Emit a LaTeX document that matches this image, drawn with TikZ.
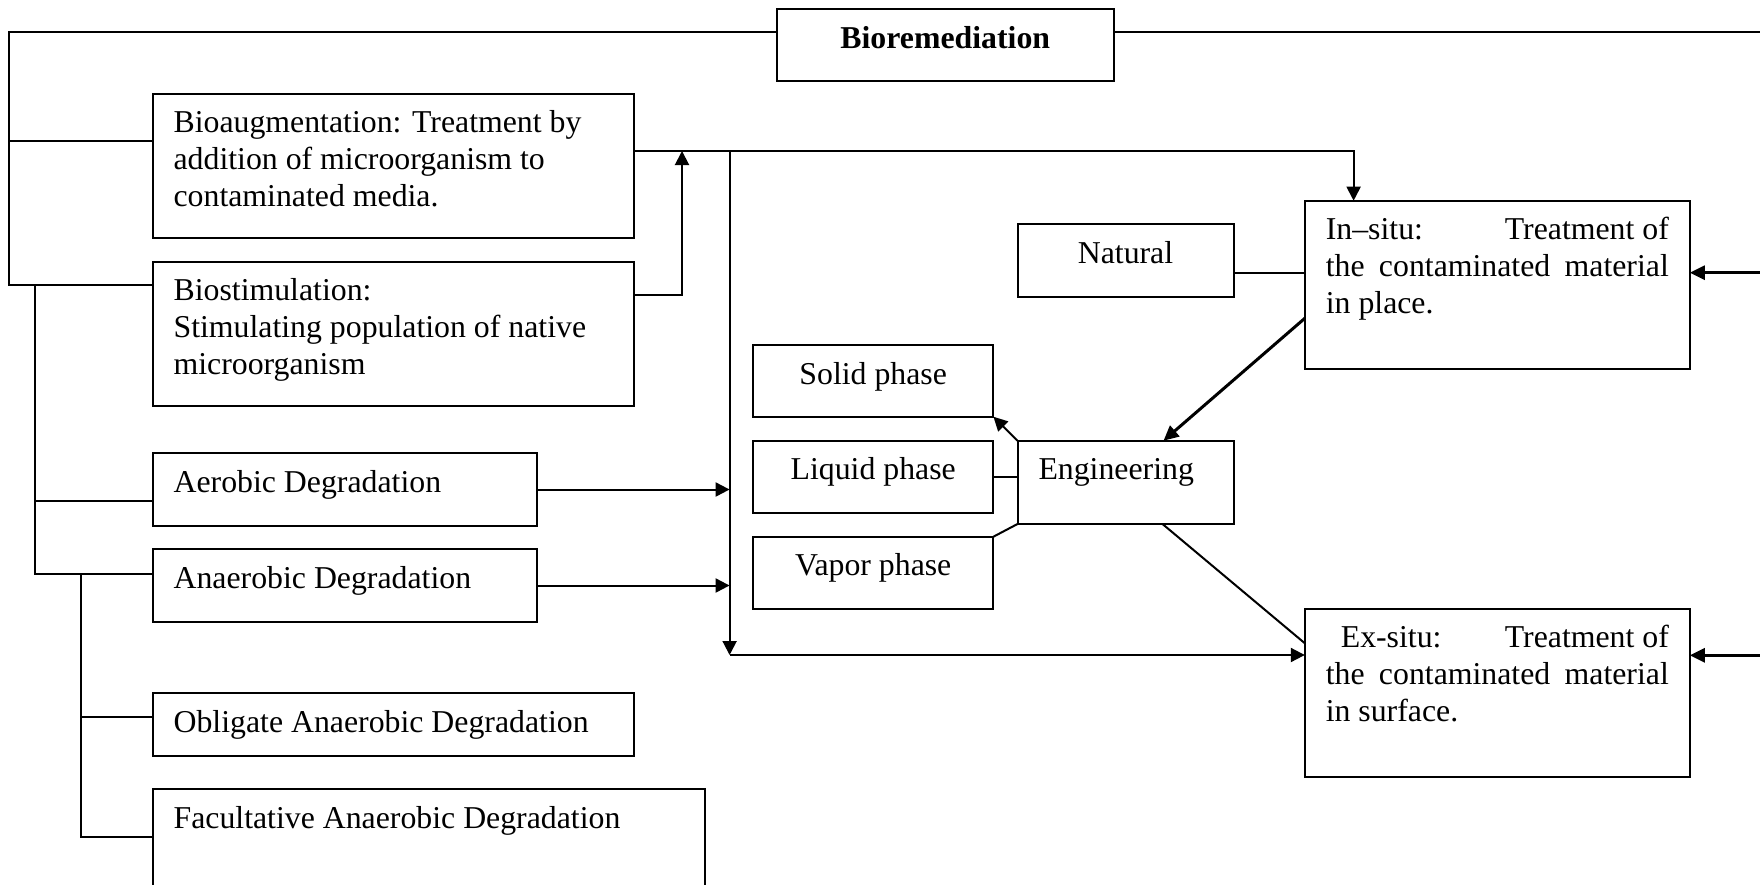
\documentclass[tikz,border=0pt]{standalone}
\usepackage{fontspec}
\setmainfont{Liberation Serif}
\usetikzlibrary{arrows.meta}

\newcommand{\boxtext}[4][\raggedright]{\parbox[t][#3][t]{#2}{#1\rule{0pt}{19.5pt}#4}}

\begin{document}
\begin{tikzpicture}[x=0.5pt, y=-0.5pt, line width=1pt,
    box/.style={draw, line width=1pt, anchor=north west, inner xsep=10.5pt, inner ysep=0pt, outer sep=0pt, font=\fontsize{15.9}{18.35}\selectfont},
    arr/.style={-{Triangle[length=7pt,width=7pt]}},
    thickarr/.style={line width=1.5pt, -{Triangle[length=7.5pt,width=7pt]}}]
    \useasboundingbox (0,0) rectangle (1760,884);
    \clip (0,0) rectangle (1760,884);

    \node[box] (biorem) at (777,9) {\boxtext[\centering\bfseries]{147.25pt}{35.85pt}{Bioremediation}};
    \node[box] (bioaug) at (152.6,93.7) {\boxtext{219.5pt}{72pt}{Bioaugmentation: Treatment by\\addition of microorganism to\\contaminated media.}};
    \node[box] (biostim) at (152.6,261.7) {\boxtext{219.5pt}{72pt}{Biostimulation:\\Stimulating population of native\\microorganism}};
    \node[box] (aerob) at (152.6,453.3) {\boxtext{171.2pt}{36.2pt}{Aerobic Degradation}};
    \node[box] (anaer) at (152.6,549.3) {\boxtext{171.2pt}{36.2pt}{Anaerobic Degradation}};
    \node[box] (oblig) at (152.6,693.3) {\boxtext{219.5pt}{31.35pt}{Obligate Anaerobic Degradation}};
    \node[box] (facult) at (152.6,789.3) {\boxtext{255.4pt}{65pt}{Facultative Anaerobic Degradation}};
    \node[box] (solid) at (753,345) {\boxtext[\centering]{99.2pt}{35.85pt}{Solid phase}};
    \node[box] (liquid) at (753,440.7) {\boxtext[\centering]{99.2pt}{36.15pt}{Liquid phase}};
    \node[box] (vapor) at (753,536.7) {\boxtext[\centering]{99.2pt}{36.15pt}{Vapor phase}};
    \node[box] (engin) at (1017.5,440.7) {\boxtext{87pt}{41.65pt}{Engineering}};
    \node[box] (natural) at (1017.5,224.3) {\boxtext[\centering]{87pt}{36.2pt}{Natural}};
    \node[box] (insitu) at (1304.8,200.7) {\boxtext[]{171.5pt}{84pt}{In--situ:\hfill Treatment of\\the contaminated material\linebreak in place.}};
    \node[box] (exsitu) at (1304.8,608.7) {\boxtext[]{171.5pt}{84.15pt}{\hspace*{7.5pt}Ex-situ:\hfill Treatment of\\the contaminated material\linebreak in surface.}};

    \coordinate (tl) at (9,32.3);
    \coordinate (tr) at (1760,32.3);
    \coordinate (ba) at (9,141.3);
    \coordinate (bl) at (9,285.3);
    \coordinate (v2) at (35,285.3);
    \coordinate (ae) at (35,501);
    \coordinate (v2b) at (35,573.7);
    \coordinate (v3) at (81.4,573.7);
    \coordinate (ob) at (81.4,717);
    \coordinate (v3b) at (81.4,837.3);
    \coordinate (hl) at (729.6,151);
    \coordinate (hr) at (1353.6,151);
    \coordinate (bs) at (682,294.7);
    \coordinate (hb) at (729.6,655);
    \coordinate (re1) at (1760,272.7);
    \coordinate (re2) at (1760,655.3);

    \draw (biorem.west |- tl) -- (tl) -- (bl) -- (bl -| biostim.west);
    \draw (biorem.east |- tr) -- (tr);
    \draw (ba) -- (ba -| bioaug.west);
    \draw (v2) -- (v2b) -- (v2b -| anaer.west);
    \draw (ae) -- (ae -| aerob.west);
    \draw (v3) -- (v3b) -- (v3b -| facult.west);
    \draw (ob) -- (ob -| oblig.west);
    \draw[arr] (bioaug.east |- hl) -- (hr) -- (hr |- insitu.north);
    \draw[arr] (hl) -- (hb);
    \draw[arr] (hb) -- (hb -| exsitu.west);
    \draw[arr] (biostim.east |- bs) -- (bs) -- (bs |- hl);
    \draw[arr] (aerob.east) -- (aerob.east -| hl);
    \draw[arr] (anaer.east) -- (anaer.east -| hl);
    \draw ([yshift=-6pt]natural.east) -- ([yshift=-6pt]natural.east -| insitu.west);
    \draw[thickarr] (re1) -- (re1 -| insitu.east);
    \draw[thickarr] (re2) -- (re2 -| exsitu.east);
    \draw[thickarr] ([yshift=-16.8pt]insitu.west) -- ([xshift=19pt]engin.north);
    \draw[arr] (engin.north west) -- (solid.south east);
    \draw (liquid.east) -- (liquid.east -| engin.west);
    \draw (engin.south west) -- (vapor.north east);
    \draw ([xshift=18.5pt]engin.south) -- ([yshift=24.8pt]exsitu.west);
\end{tikzpicture}
\end{document}
